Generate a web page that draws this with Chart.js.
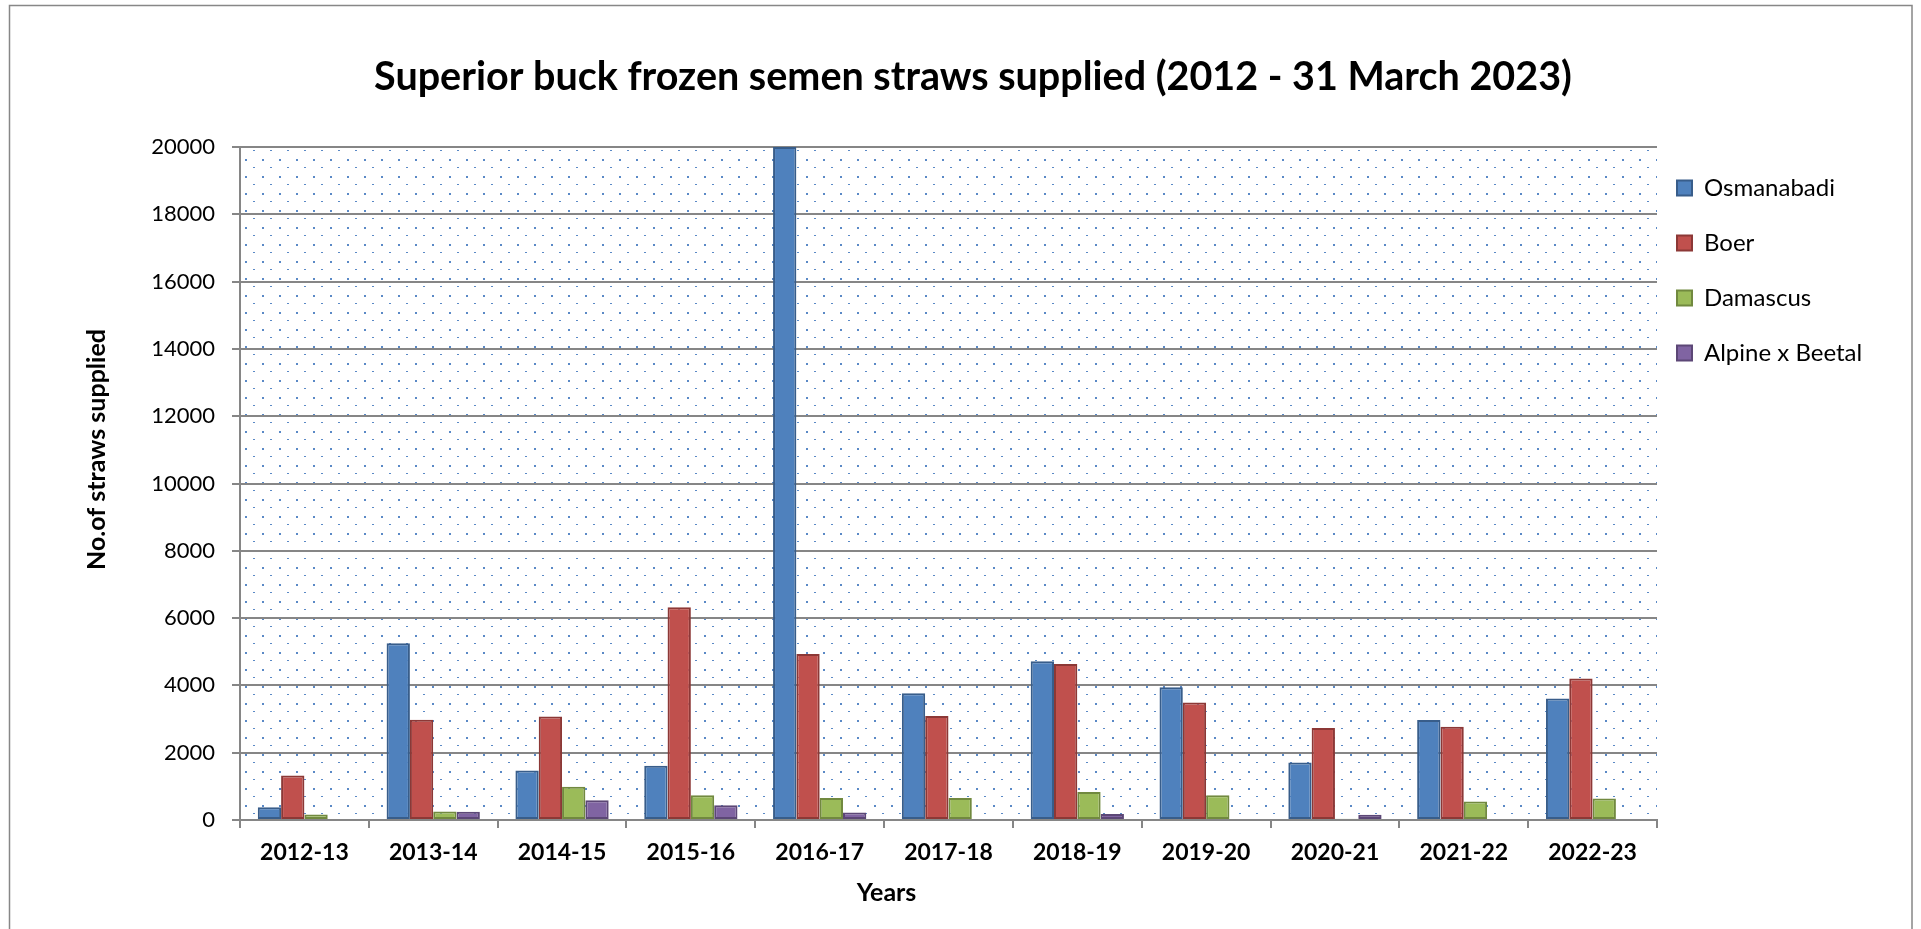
<!DOCTYPE html>
<html>
<head>
<meta charset="utf-8">
<script src="https://cdn.jsdelivr.net/npm/chart.js@4/dist/chart.umd.min.js"></script>
<style>
  html, body { margin: 0; padding: 0; background: #fff; overflow: hidden; }
  #wrap { position: relative; width: 1921px; height: 929px; }
</style>
</head>
<body>
<div id="wrap"><canvas id="c"></canvas></div>
<script>
// ---- data ----
const categories = ['2012-13','2013-14','2014-15','2015-16','2016-17','2017-18','2018-19','2019-20','2020-21','2021-22','2022-23'];
const osmanabadi = [380, 5254, 1471, 1610, 20000, 3765, 4716, 3944, 1706, 2972, 3614];
const boer       = [1322, 2978, 3076, 6324, 4933, 3091, 4636, 3489, 2734, 2773, 4208];
const damascus   = [163, 253, 987, 737, 654, 654, 832, 734, 40, 553, 642];
const alpineBeetal = [0, 245, 590, 440, 220, 0, 178, 0, 158, 0, 0];
const seriesNames = ['Osmanabadi', 'Boer', 'Damascus', 'Alpine x Beetal'];
const yMin = 0, yMax = 20000, yStep = 2000;
const titleText = 'Superior buck frozen semen straws supplied (2012 - 31 March 2023)';
const xTitle = 'Years';
const yTitle = 'No.of straws supplied';

// ---- styles ----
const FONT = 'Lato';
const GRID = '#868686';
const fills   = ['#4F81BD', '#C0504D', '#9BBB59', '#8064A2'];
const borders = ['#385D8A', '#8C3836', '#71893F', '#5C4776'];

// dotted plot-area fill pattern
const tile = document.createElement('canvas');
tile.width = 17; tile.height = 17;
const tctx = tile.getContext('2d');
tctx.fillStyle = '#5a89c6';
tctx.fillRect(0, 0, 2, 2);
tctx.fillRect(8, 8, 2, 1);
const pctx = document.getElementById('c').getContext('2d');
const pattern = pctx.createPattern(tile, 'repeat');
if (pattern.setTransform) pattern.setTransform(new DOMMatrix().translateSelf(7, 6));

const LEGEND_W = 249, LEGEND_FONT = 24, LEGEND_PAD = 31, LEGEND_DX = -11, LEGEND_DY = -2;
const X_TITLE_DX = -62, Y_TITLE_DY = -34;

const bgPlugin = {
  id: 'plotBg',
  beforeDraw(chart) {
    const { ctx, chartArea: a } = chart;
    ctx.save();
    ctx.fillStyle = '#ffffff';
    ctx.fillRect(0, 0, chart.width, chart.height);
    ctx.strokeStyle = '#878787';
    ctx.lineWidth = 1.5;
    ctx.strokeRect(9.5, 5.5, 1902.5, 1000);
    ctx.fillStyle = pattern;
    ctx.fillRect(a.left, a.top, a.right - a.left, a.bottom - a.top);
    ctx.restore();
  }
};

function shiftTitle(scale, dx, dy) {
  if (!scale || scale._titleShifted) return;
  const orig = scale.drawTitle;
  scale.drawTitle = function () {
    this.ctx.save();
    this.ctx.translate(dx, dy);
    orig.apply(this, arguments);
    this.ctx.restore();
  };
  scale._titleShifted = true;
}

const layoutPlugin = {
  id: 'layoutTweaks',
  beforeLayout(chart) {
    const lg = chart.legend;
    if (lg && !lg._fixedW) {
      const fit = lg.fit;
      lg.fit = function () { fit.call(this); this.width = LEGEND_W; };
      lg._fixedW = true;
    }
  },
  afterLayout(chart) {
    const lg = chart.legend;
    if (lg) {
      lg.left += LEGEND_DX; lg.right += LEGEND_DX;
      lg.top += LEGEND_DY; lg.bottom += LEGEND_DY;
    }
    shiftTitle(chart.scales.x, X_TITLE_DX, 0);
    shiftTitle(chart.scales.y, 0, Y_TITLE_DY);
  }
};

const valueArrays = [osmanabadi, boer, damascus, alpineBeetal];
const datasets = seriesNames.map((name, i) => ({
  label: name,
  data: valueArrays[i],
  backgroundColor: fills[i],
  borderColor: borders[i],
  borderWidth: 2,
  borderSkipped: false,
  barPercentage: 1,
  categoryPercentage: 0.724
}));

new Chart(document.getElementById('c'), {
  type: 'bar',
  data: { labels: categories, datasets },
  options: {
    responsive: true,
    maintainAspectRatio: false,
    animation: false,
    events: [],
    layout: { padding: { left: 40, right: 15, top: 0, bottom: 0 } },
    plugins: {
      title: {
        display: true,
        text: titleText,
        color: '#000',
        font: { family: FONT, size: 39.5, weight: 'bold', lineHeight: 1.2 },
        padding: { top: 53.3, bottom: 46.3 }
      },
      legend: {
        display: true,
        position: 'right',
        align: 'start',
        fullSize: false,
        labels: {
          color: '#000',
          font: { family: FONT, size: LEGEND_FONT },
          boxWidth: 15,
          boxHeight: 15,
          padding: LEGEND_PAD
        }
      },
      tooltip: { enabled: false }
    },
    scales: {
      x: {
        grid: { drawOnChartArea: false, drawTicks: true, tickLength: 8, color: GRID, lineWidth: 2 },
        border: { display: true, color: GRID, width: 2 },
        ticks: { color: '#000', padding: 11, font: { family: FONT, size: 23, weight: 'bold' }, maxRotation: 0 },
        title: {
          display: true, text: xTitle, color: '#000',
          font: { family: FONT, size: 25, weight: 'bold', lineHeight: 1.2 },
          padding: { top: 0, bottom: 21 }
        },
        afterFit(scale) { scale.height = 109; }
      },
      y: {
        min: yMin, max: yMax,
        grid: { color: GRID, lineWidth: 2, tickLength: 8, drawTicks: true },
        border: { display: true, color: GRID, width: 2 },
        ticks: {
          stepSize: yStep, color: '#000', padding: 17,
          font: { family: FONT, size: 22 },
          callback: (v) => String(v)
        },
        title: {
          display: true, text: yTitle, color: '#000',
          font: { family: FONT, size: 25, weight: 'bold', lineHeight: 1.2 },
          padding: { top: 42, bottom: 0 }
        },
        afterFit(scale) { scale.width = 200; }
      }
    }
  },
  plugins: [bgPlugin, layoutPlugin]
});
</script>
</body>
</html>
